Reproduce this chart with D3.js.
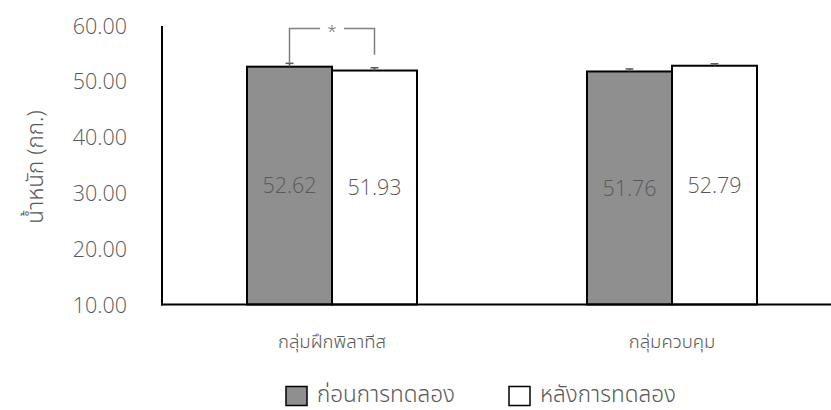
<!DOCTYPE html>
<html>
<head>
<meta charset="utf-8">
<script src="https://cdn.jsdelivr.net/npm/d3@7"></script>
<style>
  html, body { margin: 0; padding: 0; background: #fff; }
  svg { display: block; }
  .num { font-family: "Open Sans", "Noto Sans", sans-serif; font-weight: 300; fill: #595959; }
  .thai { font-family: "Noto Sans Thai", "Noto Sans", "DejaVu Sans", sans-serif; font-weight: 300; fill: #595959; }
</style>
</head>
<body>
<svg id="chart" width="831" height="410"></svg>
<script>
// Body weight before / after training, two groups
const groups = ["กลุ่มฝึกพิลาทีส", "กลุ่มควบคุม"];
const seriesNames = ["ก่อนการทดลอง", "หลังการทดลอง"];
const before = [52.62, 51.76];
const after = [51.93, 52.79];
const beforeErr = [0.6, 0.45];
const afterErr = [0.5, 0.35];
const yTicks = [10, 20, 30, 40, 50, 60];
const yTitle = "น้ำหนัก (กก.)";

const svg = d3.select("#chart");
const plotL = 162, plotR = 842, plotT = 25.5, plotB = 304.5;

const x = d3.scaleBand().domain(groups).range([plotL, plotR]).paddingInner(0).paddingOuter(0);
const xs = d3.scaleBand().domain(seriesNames).range([0, x.bandwidth()]).paddingOuter(1).paddingInner(0);
const y = d3.scaleLinear().domain([10, 60]).range([plotB, plotT]);

const fills = ["#8f8f8f", "#ffffff"];
const rows = groups.map((g, i) => [
  { g, s: seriesNames[0], v: before[i], e: beforeErr[i], fill: fills[0] },
  { g, s: seriesNames[1], v: after[i], e: afterErr[i], fill: fills[1] }
]).flat();

// y tick labels
const yAxis = d3.axisLeft(y).tickValues(yTicks).tickFormat(d3.format(".2f")).tickSize(0).tickPadding(0);
const yg = svg.append("g").attr("transform", `translate(127,0)`).call(yAxis);
yg.select(".domain").remove();
yg.selectAll("text").attr("class", "num").attr("font-size", 21.5).attr("fill", "#595959").attr("dy", "0.35em");

// bars
svg.append("g").selectAll("rect").data(rows).join("rect")
  .attr("x", d => x(d.g) + xs(d.s))
  .attr("y", d => y(d.v))
  .attr("width", xs.bandwidth())
  .attr("height", d => y(10) - y(d.v))
  .attr("fill", d => d.fill)
  .attr("stroke", "#000")
  .attr("stroke-width", 2);

// error bars (upper only)
const eb = svg.append("g").attr("stroke", "#595959").attr("stroke-width", 1.5);
eb.selectAll("line.v").data(rows).join("line").attr("class", "v")
  .attr("x1", d => x(d.g) + xs(d.s) + xs.bandwidth() / 2)
  .attr("x2", d => x(d.g) + xs(d.s) + xs.bandwidth() / 2)
  .attr("y1", d => y(d.v)).attr("y2", d => y(d.v + d.e));
eb.selectAll("line.c").data(rows).join("line").attr("class", "c")
  .attr("x1", d => x(d.g) + xs(d.s) + xs.bandwidth() / 2 - 4)
  .attr("x2", d => x(d.g) + xs(d.s) + xs.bandwidth() / 2 + 4)
  .attr("y1", d => y(d.v + d.e)).attr("y2", d => y(d.v + d.e));

// value labels in the middle of each bar
svg.append("g").selectAll("text").data(rows).join("text")
  .attr("class", "num")
  .attr("x", d => x(d.g) + xs(d.s) + xs.bandwidth() / 2)
  .attr("y", d => (y(d.v) + y(10)) / 2)
  .attr("dy", "0.35em")
  .attr("text-anchor", "middle")
  .attr("font-size", 21.5)
  .text(d => d.v.toFixed(2));

// axes lines
svg.append("line").attr("x1", plotL).attr("x2", plotL).attr("y1", 26).attr("y2", plotB + 1)
  .attr("stroke", "#000").attr("stroke-width", 2);
svg.append("line").attr("x1", plotL - 1).attr("x2", 831).attr("y1", plotB).attr("y2", plotB)
  .attr("stroke", "#000").attr("stroke-width", 2);

// category labels
svg.append("g").selectAll("text").data(groups).join("text")
  .attr("class", "thai")
  .attr("x", d => x(d) + x.bandwidth() / 2)
  .attr("y", 348)
  .attr("text-anchor", "middle")
  .attr("font-size", 18.5)
  .text(d => d);

// y title
svg.append("text").attr("class", "thai")
  .attr("transform", "translate(43,167) rotate(-90)")
  .attr("text-anchor", "middle")
  .attr("font-size", 22.5)
  .text(yTitle);

// significance bracket between the two bars of the first group
const c0 = x(groups[0]) + xs(seriesNames[0]) + xs.bandwidth() / 2;
const c1 = x(groups[0]) + xs(seriesNames[1]) + xs.bandwidth() / 2;
const by = 28.5;
const mid = (c0 + c1) / 2;
const br = svg.append("g").attr("stroke", "#7f7f7f").attr("stroke-width", 1.5).attr("fill", "none");
br.append("path").attr("d", `M${c0},${y(before[0] + beforeErr[0])}V${by}H${mid - 12}`);
br.append("path").attr("d", `M${mid + 12},${by}H${c1}V${y(after[0] + afterErr[0]) - 13}`);
svg.append("text").attr("class", "num")
  .attr("x", mid).attr("y", by + 8)
  .attr("text-anchor", "middle").attr("font-size", 17).attr("fill", "#595959")
  .text("*");

// legend
const lg = svg.append("g");
const legendX = [286, 509];
seriesNames.forEach((s, i) => {
  lg.append("rect").attr("x", legendX[i]).attr("y", 386.5).attr("width", 21).attr("height", 19)
    .attr("fill", fills[i]).attr("stroke", "#000").attr("stroke-width", 1.5);
  lg.append("text").attr("class", "thai").attr("x", legendX[i] + 31).attr("y", 401.5)
    .attr("font-size", 22.5).text(s);
});
</script>
</body>
</html>
